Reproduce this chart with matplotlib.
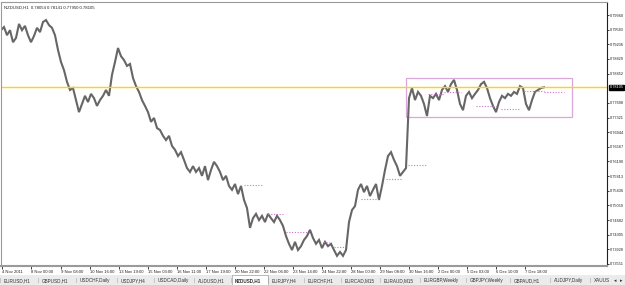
import matplotlib
matplotlib.use("Agg")
import matplotlib.pyplot as plt
from matplotlib.patches import Rectangle
import matplotlib.transforms as mtransforms

plt.rcParams["font.family"] = ["Liberation Sans", "DejaVu Sans"]

# ---------------- data ----------------
close = [
    0.7957, 0.7965, 0.7944, 0.7957, 0.7926, 0.7937, 0.7973, 0.7957, 0.7968, 0.7944,
    0.7926, 0.7942, 0.7963, 0.7952, 0.7978, 0.7983, 0.7970, 0.7963, 0.7944, 0.7906,
    0.7875, 0.7854, 0.7824, 0.7803, 0.7808, 0.7777, 0.7746, 0.7767, 0.7788, 0.7772,
    0.7793, 0.7782, 0.7762, 0.7777, 0.7788, 0.7803, 0.7788, 0.7842, 0.7875, 0.7911,
    0.7890, 0.7880, 0.7865, 0.7870, 0.7834, 0.7813, 0.7798, 0.7777, 0.7762, 0.7746,
    0.7721, 0.7731, 0.7705, 0.7700, 0.7685, 0.7674, 0.7685, 0.7659, 0.7649, 0.7633,
    0.7643, 0.7623, 0.7602, 0.7592, 0.7607, 0.7592, 0.7602, 0.7582, 0.7607, 0.7571,
    0.7597, 0.7618, 0.7607, 0.7592, 0.7571, 0.7582, 0.7556, 0.7546, 0.7561, 0.7535,
    0.7556, 0.7520, 0.7499, 0.7448, 0.7473, 0.7484, 0.7468, 0.7479, 0.7463, 0.7484,
    0.7473, 0.7463, 0.7479, 0.7468, 0.7453, 0.7427, 0.7407, 0.7391, 0.7412, 0.7391,
    0.7401, 0.7417, 0.7427, 0.7443, 0.7422, 0.7407, 0.7417, 0.7396, 0.7412, 0.7401,
    0.7407, 0.7391, 0.7376, 0.7386, 0.7376, 0.7391, 0.7463, 0.7494, 0.7504, 0.7546,
    0.7561, 0.7540, 0.7556, 0.7530, 0.7546, 0.7561, 0.7520, 0.7556, 0.7597, 0.7633,
    0.7643, 0.7623, 0.7607, 0.7582, 0.7592, 0.7602, 0.7782, 0.7808, 0.7777, 0.7798,
    0.7788, 0.7767, 0.7736, 0.7788, 0.7782, 0.7793, 0.7777, 0.7803, 0.7813, 0.7798,
    0.7818, 0.7829, 0.7803, 0.7767, 0.7751, 0.7788, 0.7798, 0.7782, 0.7793, 0.7803,
    0.7818, 0.7824, 0.7808, 0.7782, 0.7762, 0.7746, 0.7772, 0.7788, 0.7782, 0.7793,
    0.7788, 0.7798, 0.7793, 0.7813, 0.7808, 0.7767, 0.7751, 0.7777, 0.7798, 0.7803,
    0.7808, 0.7810,
]
bars = list(range(len(close)))

title_text = "NZDUSD,H1  0.78054 0.78141 0.77950 0.78105"
current_price = 0.78105

price_ticks = [0.79960, 0.79583, 0.79206, 0.78829, 0.78452, 0.77698, 0.77321,
               0.76944, 0.76567, 0.76190, 0.75813, 0.75436, 0.75059, 0.74682,
               0.74305, 0.73928, 0.73551]

time_ticks = [0.3, 10, 20, 29.7, 39.3, 49, 58.7, 68.3, 78, 87.7, 97.3, 107,
              116.7, 126.3, 136, 145.7, 155.3, 165, 174.7]
time_labels = ["4 Nov 2011", "8 Nov 00:00", "9 Nov 08:00", "10 Nov 16:00",
               "13 Nov 19:00", "15 Nov 03:00", "16 Nov 11:00", "17 Nov 19:00",
               "20 Nov 22:00", "22 Nov 06:00", "23 Nov 14:00", "24 Nov 22:00",
               "28 Nov 00:00", "29 Nov 08:00", "30 Nov 16:00", "2 Dec 00:00",
               "5 Dec 03:00", "6 Dec 10:00", "7 Dec 18:00"]

# dotted level segments: (start bar, end bar, price)
levels = [(81, 87.3, 0.75584), (89, 94.3, 0.74838), (95, 102.3, 0.74374),
          (107.3, 109.3, 0.74117), (111, 114.3, 0.73988), (120, 125.7, 0.75224),
          (128.3, 133.3, 0.75739), (135.5, 141.5, 0.76099),
          (142.3, 147.7, 0.77926), (147.7, 153.3, 0.77978), (158.3, 165, 0.77618),
          (166.7, 172.7, 0.77540), (174.3, 181, 0.78004), (181, 187.7, 0.77978)]

# rectangle object: (start bar, end bar, top price, bottom price)
box = (135.0, 190.3, 0.78331, 0.77342)

tabs = ["EURUSD,H1", "GBPUSD,H1", "USDCHF,Daily", "USDJPY,H4", "USDCAD,Daily",
        "AUDUSD,H1", "NZDUSD,H1", "EURJPY,H4", "EURCHF,H1", "EURCAD,M15",
        "EURAUD,M15", "EURGBP,Weekly", "GBPJPY,Weekly", "GBPAUD,H1",
        "AUDJPY,Daily", "XAUUS"]
tab_x = [4, 42, 80, 121, 158, 198, 235, 272, 308, 345, 384, 424, 470, 514, 554, 594]
active_tab = "NZDUSD,H1"

# ---------------- figure ----------------
W, H = 625, 285
fig = plt.figure(figsize=(W / 100, H / 100), dpi=100)
fig.patch.set_facecolor("white")

ax = fig.add_axes([1 / W, 1 - 266 / H, 606 / W, 264 / H])
ax.set_facecolor("white")
ax.set_xlim(0, 202)
ax.set_ylim(0.73499, 0.80295)

ax.plot(bars, close, color="#666666", lw=1.5, solid_joinstyle="miter")

# current price line
ax.axhline(current_price, color="#ffd500", lw=1.0)

# dotted levels
for x0, x1, p in levels:
    ax.plot([x0, x1], [p, p], color="#d070d0", lw=0.8, ls=(0, (1, 1.5)))

# rectangle
ax.add_patch(Rectangle((box[0], box[3]), box[1] - box[0], box[2] - box[3],
                       fill=False, edgecolor="#d9a8d9", lw=0.9))

# spines
for s in ["left", "top", "bottom"]:
    ax.spines[s].set_color("#9a9a9a")
    ax.spines[s].set_linewidth(0.8)
ax.spines["right"].set_color("#202020")
ax.spines["right"].set_linewidth(0.8)
ax.spines["bottom"].set_linewidth(1.5)

# price axis
ax.yaxis.tick_right()
ax.set_yticks(price_ticks)
ax.set_yticklabels([f"{v:.5f}" for v in price_ticks])
ax.tick_params(axis="y", direction="out", length=1.5, width=0.6, pad=0.6,
               labelsize=2.8, colors="#202020")

# time axis
ax.set_xticks(time_ticks)
ax.set_xticklabels(time_labels, ha="left")
ax.tick_params(axis="x", direction="out", length=2, width=0.6, pad=0.6,
               labelsize=3.0, colors="#202020")

# current price label on axis
blend = mtransforms.blended_transform_factory(ax.transAxes, ax.transData)
ax.text(1.0045, current_price, f"{current_price:.5f}", transform=blend,
        ha="left", va="center", fontsize=2.8, color="white",
        bbox=dict(boxstyle="square,pad=0.12", fc="black", ec="black"))

# title
ax.text(3 / 606, 1 - 4 / 264, title_text, transform=ax.transAxes, ha="left",
        va="top", fontsize=3.1, color="#202020")

# tab bar
fig.patches.append(Rectangle((0, 0), 1, 10 / H, transform=fig.transFigure,
                             fc="#ebebeb", ec="none", zorder=0))
for name, x in zip(tabs, tab_x):
    if name == active_tab:
        fig.patches.append(Rectangle(((x - 3) / W, 0), 36 / W, 10 / H,
                                     transform=fig.transFigure, fc="white",
                                     ec="#a0a0a0", lw=0.5, zorder=1))
    fig.text(x / W, 4.5 / H, name, ha="left", va="center", fontsize=3.3,
             color="#303030", fontweight="bold" if name == active_tab else "normal",
             zorder=2)
    fig.text((x - 4) / W, 4.5 / H, "|", ha="center", va="center", fontsize=3.5,
             color="#9a9a9a", zorder=2)
fig.text(615 / W, 4.5 / H, "◂", ha="center", va="center", fontsize=3.5,
         color="#303030", family=["DejaVu Sans"])
fig.text(621 / W, 4.5 / H, "▸", ha="center", va="center", fontsize=3.5,
         color="#303030", family=["DejaVu Sans"])

fig.savefig("out.png", dpi=100, facecolor="white")
